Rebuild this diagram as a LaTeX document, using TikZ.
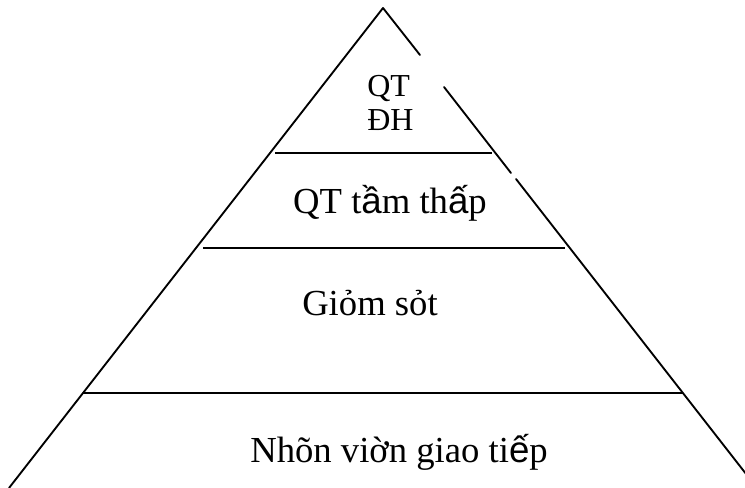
\documentclass[tikz,border=0pt]{standalone}
\usepackage{fontspec}
\setmainfont{Liberation Serif}
\newfontfamily\accfont{Liberation Sans}
\usetikzlibrary{positioning}
\tikzset{
  sideline/.style={line width=1.4pt, line cap=round},
  tierline/.style={line width=1.6pt},
  tierlabel/.style={anchor=base, inner sep=0pt, font=\fontsize{27.5}{32}\selectfont},
  toplabel/.style={anchor=base west, inner sep=0pt, align=left, font=\fontsize{24}{27}\selectfont}
}

\begin{document}
\begin{tikzpicture}[x=0.75pt, y=-0.75pt]
  \useasboundingbox (0,0) rectangle (745,488);
  \clip (0,0) rectangle (745,488);
  % corners of the pyramid
  \coordinate (apex) at (383,8);
  \coordinate (bl) at (9,488);
  \coordinate (br) at (757,488);
  \draw[sideline] (apex) -- (bl);
  \draw[sideline] (apex) -- (420,55);
  \draw[sideline] (444,87) -- (511,173);
  \draw[sideline] (516,179) -- (br);
  % tiers
  \draw[tierline] (275,153) -- (492,153);
  \draw[tierline] (203,248) -- (565,248);
  \draw[tierline] (83,393) -- (683,393);
  % labels
  \node[toplabel] (top) at (367,131) {QT\\[-1pt]ĐH};
  \node[tierlabel] (mid) at (390,214) {QT t{\accfont ầ}m th{\accfont ấ}p};
  \node[tierlabel] (sup) at (370,315) {Giỏm sỏt};
  \node[tierlabel] (staff) at (399,462) {Nhõn viờn giao ti{\accfont ế}p};
\end{tikzpicture}
\end{document}
